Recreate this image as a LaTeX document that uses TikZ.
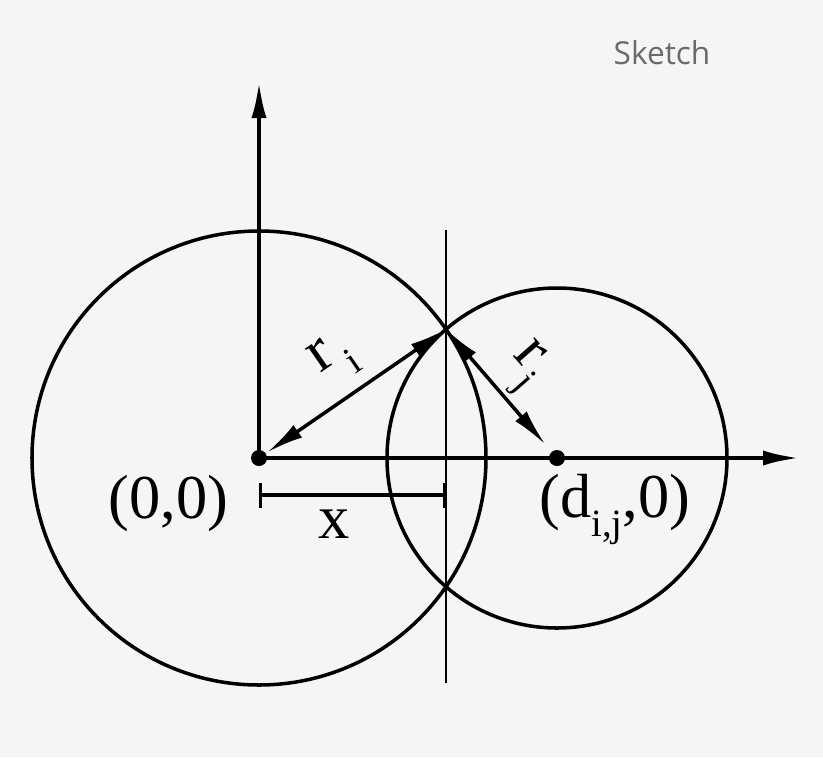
\documentclass[tikz,border=0pt]{standalone}
\usepackage{fontspec}
\setmainfont{Liberation Serif}
\newfontfamily\sketchfont{Open Sans}
\usetikzlibrary{arrows.meta,calc}
\definecolor{bgcol}{HTML}{F5F5F5}
\definecolor{sketchgray}{HTML}{6B6B6B}
\newcommand{\lowsub}[1]{\raisebox{-0.32em}{\fontsize{22}{24}\selectfont #1}}

\begin{document}
\begin{tikzpicture}[scale=1,
  axis/.style={line width=2.7pt,-{Latex[length=7.6mm,width=3mm]}},
  circ/.style={line width=2pt},
  radarrow/.style={line width=2pt,{Latex[length=7.4mm,width=3mm]}-{Latex[length=7.4mm,width=3mm]}},
  dot/.style={circle,fill=black,inner sep=0pt,minimum size=3.2mm},
  lbl/.style={font=\fontsize{35.5}{40}\selectfont,inner sep=0pt}]

% Background
\fill[bgcol] (-5.18,-5.98) rectangle (11.28,9.16);
\useasboundingbox (-5.18,-5.98) rectangle (11.28,9.16);

% Centres and crossing point
\coordinate (O) at (0,0);
\coordinate (D) at (5.96,0);
\coordinate (P) at (3.739,2.575);

% Circles
\draw[circ] (O) circle (4.54);
\draw[circ] (D) circle (3.4);

% Chord through the crossing points
\coordinate (Ptop) at (3.739,4.56);
\coordinate (Pbot) at (3.739,-4.5);
\draw[line width=1pt] (Ptop)--(Pbot);

% Axes
\coordinate (ytip) at (0,7.56);
\coordinate (xtip) at (10.84,0);
\draw[axis] (O)--(ytip);
\draw[axis] (O)--(xtip);

% Radii
\draw[radarrow,shorten <=0.2cm] (O)--(P);
\draw[radarrow,shorten >=0.36cm] (P)--(D);
\node[lbl,rotate=34.7] (ri) at (1.5,1.98) {r\kern4pt\lowsub{i}};
\node[lbl,rotate=-48.8] (rj) at (5.3,1.8) {r\kern1pt\lowsub{j}};

% Centre points
\node[dot] (o) at (O) {};
\node[dot] (d) at (D) {};
\node[lbl,anchor=base] (origin) at (-1.81,-1.2) {(0,0)};
\node[lbl,anchor=base west] (dij) at (5.6,-1.18) {(d\lowsub{i,j},0)};

% Distance x
\coordinate (xa) at (0,-0.74);
\coordinate (xb) at (3.739,-0.74);
\draw[line width=2.5pt,{Bar[width=5mm,line width=1.5pt]}-{Bar[width=5mm,line width=1.5pt]}] (xa)--(xb);
\node[lbl,anchor=base] (xlab) at (1.5,-1.6) {x};

% Title
\node[text=sketchgray,font=\sketchfont\fontsize{18}{22}\selectfont] (title) at (8.06,8.1) {Sketch};

\end{tikzpicture}
\end{document}
